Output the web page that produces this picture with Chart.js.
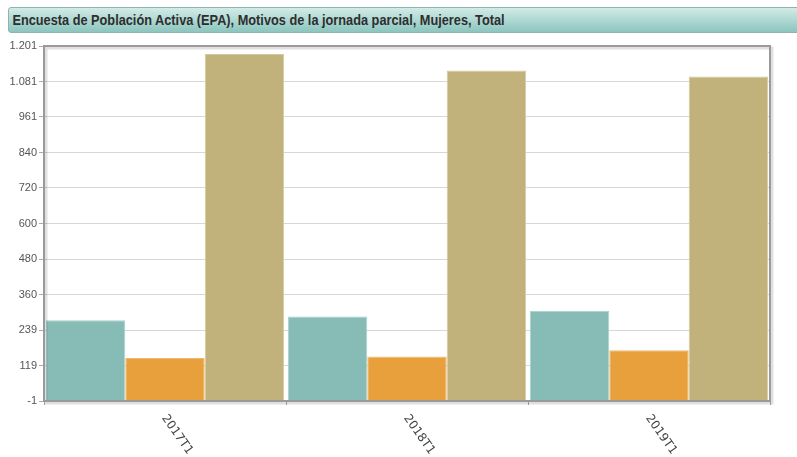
<!DOCTYPE html>
<html lang="es">
<head>
  <meta charset="UTF-8" />
  <title>EPA, Motivos de la jornada parcial, Mujeres</title>
  <script src="https://cdn.jsdelivr.net/npm/chart.js"></script>
  <style>
    body {
      margin: 0;
      background: white;
      overflow: hidden;
    }

    .titulo {
      position: absolute;
      left: 8px;
      top: 7px;
      width: 800px;
      height: 26px;
      border: 1px solid #8fb3ae;
      border-radius: 3px;
      background: linear-gradient(to bottom, #d2ebe7, #8cc5be);
      box-sizing: border-box;
      white-space: nowrap;
    }

    .titulo span {
      display: inline-block;
      padding-left: 4px;
      font-family: 'Liberation Sans', sans-serif;
      font-weight: bold;
      font-size: 15px;
      line-height: 24px;
      color: #2e2e2e;
      transform: scaleX(0.85); /* letra estrecha */
      transform-origin: left center;
    }

    canvas {
      position: absolute;
      left: 0;
      top: 0;
    }
  </style>
</head>

<body>
  <div class="titulo"><span>Encuesta de Población Activa (EPA), Motivos de la jornada parcial, Mujeres, Total</span></div>
  <canvas id="epaChart" width="797" height="457"></canvas>

  <script>
    // periodos
    const periodos = ["2017T1", "2018T1", "2019T1"];

    // valores (miles)
    const serie1 = [272, 285, 305];
    const serie2 = [145, 150, 171];
    const serie3 = [1174, 1118, 1098];

    // eje Y tal como aparece
    const yTickValues = [-1, 119.2, 239.4, 359.6, 479.8, 600, 720.2, 840.4, 960.6, 1080.8, 1201];
    const yTickLabels = ["-1", "119", "239", "360", "480", "600", "720", "840", "961", "1.081", "1.201"];

    const colores = ["#87bcb6", "#e8a03d", "#c1b27b"];
    const bordes = ["#a9d0cb", "#efbb72", "#d4c9a0"];

    // marco gris con sombra alrededor del area
    const marco = {
      id: "marco",
      afterDatasetsDraw(chart) {
        const { ctx, chartArea: a } = chart;
        ctx.save();
        ctx.strokeStyle = "rgba(0,0,0,0.12)";
        ctx.lineWidth = 3;
        ctx.strokeRect(a.left + 2, a.top + 2, a.right - a.left, a.bottom - a.top);
        ctx.strokeStyle = "#9a9a9a";
        ctx.lineWidth = 2;
        ctx.strokeRect(a.left, a.top, a.right - a.left, a.bottom - a.top);
        ctx.restore();
      }
    };

    // etiquetas del eje X giradas hacia abajo
    const etiquetasX = {
      id: "etiquetasX",
      afterDraw(chart) {
        const { ctx } = chart;
        const x = chart.scales.x;
        ctx.save();
        ctx.font = "12px 'DejaVu Sans', sans-serif";
        ctx.fillStyle = "#444";
        ctx.textAlign = "left";
        ctx.textBaseline = "middle";
        periodos.forEach((p, i) => {
          ctx.save();
          ctx.translate(x.getPixelForTick(i) - 1, x.top + 15);
          ctx.rotate(55 * Math.PI / 180);
          ctx.fillText(p, 0, 0);
          ctx.restore();
        });
        ctx.restore();
      }
    };

    const ctx = document.getElementById("epaChart").getContext("2d");
    new Chart(ctx, {
      type: "bar",
      data: {
        labels: periodos,
        datasets: [serie1, serie2, serie3].map((d, i) => ({
          data: d,
          backgroundColor: colores[i],
          borderColor: bordes[i],
          borderWidth: 1,
          barPercentage: 1,
          categoryPercentage: 0.985
        }))
      },
      options: {
        responsive: false,
        animation: false,
        layout: { padding: { top: 46, right: 27, left: 0, bottom: 0 } },
        plugins: {
          legend: { display: false },
          tooltip: { enabled: false }
        },
        scales: {
          x: {
            border: { display: false },
            grid: {
              drawOnChartArea: false,
              tickLength: 4,
              tickColor: "#aaa"
            },
            ticks: { display: false },
            afterFit(scale) { scale.height = 56; }
          },
          y: {
            min: -1,
            max: 1201,
            border: { display: false },
            grid: {
              color: "#d8d8d8",
              tickLength: 5,
              tickColor: "#aaa"
            },
            ticks: {
              color: "#555",
              padding: 2,
              font: { family: "'Liberation Sans Narrow', 'Liberation Sans', sans-serif", size: 11 },
              callback: (v, i) => yTickLabels[i]
            },
            afterBuildTicks(scale) {
              scale.ticks = yTickValues.map(v => ({ value: v }));
            },
            afterFit(scale) { scale.width = 44; }
          }
        }
      },
      plugins: [marco, etiquetasX]
    });
  </script>
</body>
</html>
